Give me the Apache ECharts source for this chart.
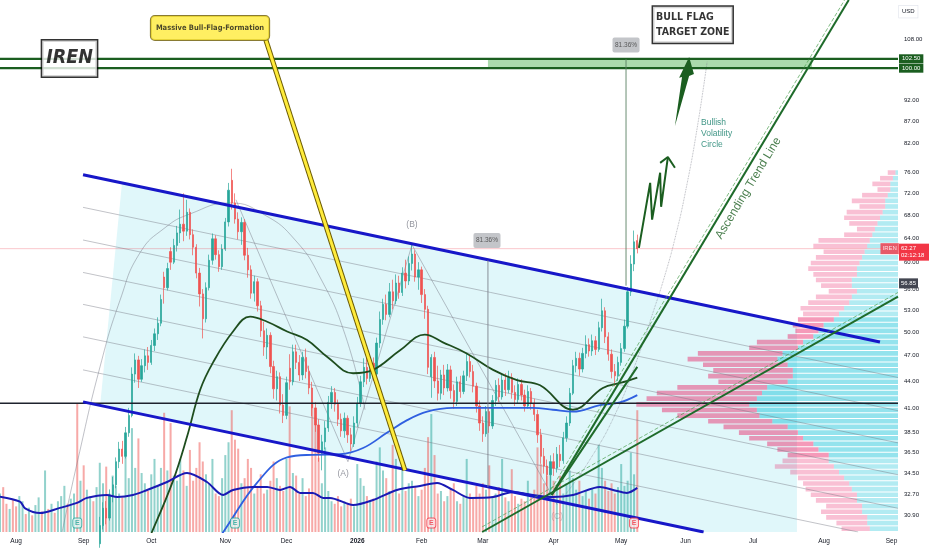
<!DOCTYPE html>
<html>
<head>
<meta charset="utf-8">
<title>IREN</title>
<style>
	html, body { margin: 0; padding: 0; background: #fff; }
	#main { width: 932px; height: 550px; }
</style>
</head>
<body>
<div id="main"></div>
<script src="https://cdn.jsdelivr.net/npm/echarts@6/dist/echarts.min.js"></script>
<script>
	// x = trading-day index, 0 = 2025-08-01
	var firstIdx = -5;
	var monthTicks = [0, 21, 42, 65, 84, 106, 126, 145, 167, 188, 208, 229, 251, 272];
	var monthNames = ['Aug', 'Sep', 'Oct', 'Nov', 'Dec', '2026', 'Feb', 'Mar', 'Apr', 'May', 'Jun', 'Jul', 'Aug', 'Sep'];

	var priceMin = 29.6, priceMax = 119.6;
	var priceTicks = [108, 92, 87, 82, 76, 72, 68, 64, 60, 56, 53, 50, 47, 44, 41, 38.5, 36.5, 34.5, 32.7, 30.9];
	var tagTicks = [116, 102.5, 100, 56.85, 62.27];

	// daily [open, close, low, high] from idx -5
	var candles = [
		[17.0,17.5,16.6,17.9],[17.5,16.8,16.5,17.8],[16.8,16.2,15.8,17.0],[16.2,16.9,16.0,17.2],[16.9,16.0,15.7,17.1],
		[16.0,15.4,15.0,16.2],[15.4,16.3,15.2,16.6],[16.3,17.2,16.0,17.6],[17.2,16.8,16.5,17.7],[16.8,17.6,16.6,18.0],
		[17.6,17.1,16.9,17.9],[17.1,18.2,17.0,18.6],[18.2,19.5,18.0,19.9],[19.5,18.9,18.6,19.8],[18.9,20.1,18.7,20.6],
		[20.1,19.6,19.2,20.4],[19.6,20.8,19.4,21.2],[20.8,20.2,19.9,21.1],[20.2,21.5,20.0,21.9],[21.5,22.4,21.2,22.9],
		[22.4,23.6,22.1,24.0],[23.6,23.0,22.7,24.1],[23.0,24.2,22.8,24.6],[24.2,25.4,23.9,25.8],[25.4,24.6,24.2,26.0],
		[24.6,26.3,24.4,26.8],[26.3,25.7,25.2,26.9],[25.7,26.9,25.5,27.4],[26.9,27.8,26.5,28.3],[27.8,27.2,26.8,28.4],
		[27.2,28.7,27.0,29.2],[28.7,30.1,28.4,30.8],[30.1,31.5,29.8,32.0],[31.5,30.7,30.2,32.1],[30.7,32.6,30.5,33.1],
		[32.6,33.5,32.0,34.2],[33.5,35.6,33.2,36.0],[35.6,36.8,35.0,37.5],[36.8,36.1,35.4,37.6],[36.1,38.4,35.9,39.0],
		[38.4,40.2,38.0,41.0],[40.2,44.8,40.0,45.6],[44.8,46.5,43.8,47.3],[46.5,44.2,43.2,47.0],[44.2,45.8,43.9,46.6],
		[45.8,47.0,45.0,47.8],[47.0,46.2,45.3,48.1],[46.2,48.3,45.9,49.0],[48.3,49.8,47.6,50.5],[49.8,51.2,49.0,52.0],
		[51.2,54.5,50.8,55.2],[57.8,56.2,53.9,58.6],[56.2,59.1,55.8,60.0],[61.8,60.1,58.9,62.5],[60.1,62.8,59.8,63.9],
		[62.8,64.9,61.8,66.1],[64.9,66.4,63.2,69.0],[66.4,65.2,63.5,72.0],[65.2,68.5,64.4,70.8],[68.5,64.6,63.8,69.2],
		[64.6,62.5,61.2,65.5],[62.5,58.4,57.6,63.0],[58.4,55.3,53.5,59.2],[55.3,51.8,49.2,56.0],[51.8,56.2,51.3,57.0],
		[56.2,60.4,55.8,61.3],[60.4,63.9,59.7,64.8],[63.9,61.3,60.5,64.5],[61.3,59.4,58.6,62.0],[59.4,62.2,58.9,63.0],
		[62.2,66.8,61.9,67.5],[66.8,72.6,66.0,74.0],[74.5,70.2,69.0,76.8],[70.2,67.3,66.5,72.0],[67.3,65.1,63.8,68.5],
		[65.1,66.7,62.9,67.6],[66.7,61.2,60.4,67.3],[61.2,58.9,57.7,62.4],[58.9,55.4,54.6,59.6],[55.4,57.1,54.2,58.0],
		[57.1,53.6,52.8,57.6],[53.6,50.2,49.4,54.3],[50.2,48.1,47.0,51.4],[48.1,49.6,46.6,50.5],[49.6,45.7,44.9,50.0],
		[45.7,43.1,42.0,46.4],[43.1,44.5,41.8,45.2],[44.5,41.3,40.4,45.0],[41.3,40.2,39.4,42.5],[40.2,43.8,39.8,44.5],
		[45.5,43.9,43.0,47.2],[43.9,47.5,43.5,48.4],[47.5,46.2,45.4,48.4],[46.2,44.7,44.0,47.1],[44.7,46.8,44.1,47.5],
		[46.8,45.1,44.3,47.9],[45.1,43.2,42.5,45.8],[43.2,41.0,40.1,43.9],[41.0,39.2,38.5,41.6],[39.2,36.4,35.6,39.8],
		[36.4,37.5,34.8,38.2],[37.5,38.9,36.8,39.6],[38.9,41.6,38.5,42.3],[41.6,42.7,40.9,43.4],[42.7,41.4,40.6,43.2],
		[41.4,39.8,39.1,41.9],[39.8,38.6,38.0,40.4],[38.6,39.9,37.9,40.5],[39.9,38.2,37.4,40.2],[38.2,37.3,36.6,38.9],
		[37.3,39.4,37.0,40.1],[39.4,41.5,39.0,42.2],[41.5,43.9,41.1,44.6],[43.9,45.6,43.3,46.7],[45.6,44.3,43.6,47.6],
		[44.3,46.1,43.9,46.9],[46.1,44.8,44.0,46.8],[44.8,48.6,44.5,49.3],[48.6,51.7,48.0,52.8],[51.7,53.8,51.0,54.6],
		[53.8,52.4,51.6,55.2],[52.4,55.6,52.0,56.9],[55.6,54.3,53.1,57.4],[54.3,56.9,53.8,58.2],[56.9,55.5,54.6,58.0],
		[55.5,58.4,55.0,59.3],[58.4,57.2,56.1,60.5],[57.2,59.9,56.6,61.0],[59.9,61.4,58.8,63.2],[61.4,57.8,57.1,62.0],
		[57.8,58.9,55.9,60.1],[58.9,55.2,54.0,59.4],[55.2,53.1,51.8,56.0],[53.1,45.6,44.8,53.6],[44.5,46.8,42.1,47.2],
		[46.8,44.0,43.2,47.5],[44.0,42.6,41.8,45.8],[42.6,44.7,41.9,45.3],[44.7,43.2,42.4,45.9],[43.2,45.3,42.8,46.0],
		[45.3,42.9,42.0,45.8],[42.9,41.7,40.9,43.6],[41.7,43.9,41.2,44.5],[43.9,42.8,42.1,44.6],[42.8,44.6,42.5,45.2],
		[44.6,46.3,44.0,47.3],[46.3,45.1,44.4,47.0],[45.1,43.4,42.7,45.9],[43.4,41.2,40.5,43.8],[41.2,39.4,38.6,41.8],
		[39.4,38.3,37.5,40.1],[38.3,40.6,38.0,41.2],[40.6,39.1,38.4,41.0],[39.1,41.8,38.8,42.4],[41.8,43.5,41.2,44.1],
		[43.5,42.2,41.6,44.3],[42.2,44.1,41.9,44.8],[44.1,43.0,42.3,44.9],[43.0,44.4,42.6,45.2],[44.4,42.7,42.0,44.9],
		[42.7,41.9,41.2,43.5],[41.9,43.6,41.5,44.3],[43.6,42.4,41.8,44.2],[42.4,41.2,40.6,43.0],[41.2,42.8,40.9,43.5],
		[42.8,41.5,40.8,43.2],[41.5,40.3,39.6,42.0],[40.3,38.2,37.4,40.8],[38.2,36.1,35.4,38.8],[36.1,35.2,34.5,36.9],
		[35.2,34.4,33.4,35.8],[34.4,35.6,33.0,36.2],[35.6,35.0,34.3,36.4],[35.0,36.3,34.6,37.0],[36.3,35.7,35.1,37.2],
		[35.7,37.9,35.4,38.5],[37.9,39.4,37.5,40.1],[39.4,42.6,39.1,43.2],[42.6,45.8,42.4,46.5],[45.8,46.7,45.0,47.5],
		[46.7,45.4,44.6,47.4],[45.4,47.3,45.0,48.0],[47.3,48.4,46.7,49.6],[48.4,47.6,46.9,49.2],[47.6,48.9,47.0,49.7],
		[48.9,47.8,47.1,49.5],[47.8,50.6,47.5,51.4],[50.6,52.9,50.1,54.6],[52.9,49.4,48.6,53.4],[49.4,47.2,46.4,50.0],
		[47.2,45.1,44.3,47.8],[45.1,44.6,43.4,46.0],[44.6,46.2,44.0,46.9],[46.2,47.9,45.8,48.6],[47.9,50.8,47.5,51.7],
		[50.8,55.6,50.5,56.3],[55.6,59.8,55.0,61.2],[59.8,63.4,58.7,65.3],[63.6,62.27,61.5,64.6]
	];

	// daily volume from idx -5
	var volumes = [
		30,35,22,18,25,
		20,28,24,14,19,13,21,27,16,48, 18,22,15,24,28,36,22,26,30,100,
		40,52,33,28,24,35,54,38,51,30, 44,36,30,27,63,42,81,50,73,46,
		38,32,45,57,36,50,93,48,85,44, 40,57,48,36,64,40,50,70,55,45,
		38,57,30,28,42,60,70,95,72,65, 38,42,57,50,30,36,45,30,33,40,
		55,42,36,32,57,98,46,44,30,42, 28,34,100,90,58,38,66,32,24,22,
		28,20,24,22,26,20,53,42,36,28, 24,26,55,66,48,42,32,68,57,30,
		55,32,38,40,35,28,33,50,74,92, 60,30,32,24,28,33,38,24,22,28,
		57,30,26,36,30,38,33,52,28,30, 35,57,27,24,49,28,22,26,24,40,
		27,33,66,53,38,44,55,40,35,44, 30,38,48,42,33,40,28,32,26,34,
		30,68,50,40,32,38,30,35,53,36, 40,62,45,95
	];

	// moving averages [idx, value]
	var ma50 = [[40,28.5],[42.2,29.6],[48.8,33.9],[53.1,38.0],[57.2,43.0],[61.2,46.2],[67.4,50.1],[72.7,52.1],[78,51.4],[84.2,50.1],[90.4,49.0],[96.6,46.9],[104.7,44.9],[110.9,45.3],[119.3,47.7],[127,49.7],[132.6,48.7],[140,47.3],[148.2,45.3],[155.6,44.1],[162.8,43.5],[173,40.8],[182.3,43.2],[188,43.8],[193,44.4]];
	var ma200 = [[62,28.8],[64.9,29.8],[74.9,33.7],[84.2,36.0],[92.2,36.25],[100.6,36.3],[107.8,36.9],[115.2,38.4],[121.5,39.7],[127.7,40.6],[135.7,41.0],[146.3,41.0],[160.6,41.0],[166.8,40.8],[173,40.6],[181.4,41.3],[187.6,41.6],[193,42.4]];
	var volMa = [[-5,27.6],[1.2,23.7],[2.8,18.5],[7.4,14.8],[13.6,18.8],[18.9,22.7],[22,26.6],[28.2,28.9],[31.4,27.3],[36.3,28.9],[40.7,32.8],[46.9,39],[53.1,46],[59.3,39],[64.3,28.9],[67.4,32.8],[73.6,35.2],[78,35.2],[82,32.8],[85.1,35.2],[88.2,30.5],[92.2,30.5],[95.4,26.6],[97.5,26.6],[104.7,21.1],[110.9,25],[118.3,32.8],[125.5,35.9],[130.8,38.3],[135.7,32.8],[141,26.6],[148.2,27.3],[154.4,31.3],[160.6,28.9],[166.8,27.3],[173,28.9],[181.4,35.2],[185.5,32.8],[189.8,30.5],[193,34.4]];

	// visible range volume profile, rows from top (76.5) to bottom
	var vpTop = 76.5;
	var vpUp = [1,2,3,3,4,5,5,6,7,8,9,10,11,12,13,14,15,16,16,18,18,16,18,19,21,23,25,29,31,33,37,39,45,47,43,41,41,43,51,53,55,58,55,54,49,43,39,37,33,31,27,27,25,23,21,19,18,16,16,14,14,12,12,11];
	var vpDown = [3,5,7,5,10,13,10,14,14,11,7,11,20,21,16,18,19,19,17,14,12,11,14,16,17,14,14,12,9,10,18,19,33,35,33,31,33,27,35,41,43,44,37,32,25,25,23,21,18,16,16,18,23,19,18,18,18,18,16,14,16,16,12,11];
	var vaLow = 36, vaHigh = 52;

	// earnings dates (idx) and tone
	var earnIdx = [19, 68, 129, 192];
	var earnTone = ['g', 'g', 'r', 'r'];

	// drawings [idx, price]
	var targetHigh = 102.5, targetLow = 100, support = 41.5, lastPrice = 62.27;
	var upperChannel = [[20.8,75.6],[268.4,48.75]];
	var lowerChannel = [[20.8,41.65],[213.6,29.6]];
	var fibChannel = [
		[[20.8,69.4],[274,44.4]], [[20.8,63.7],[274,40.7]], [[20.8,58.5],[274,37.4]],
		[[20.8,53.8],[274,34.4]], [[20.8,49.4],[274,31.5]], [[20.8,45.3],[261.6,29.6]]
	];
	var channelFill = [[32.9,73.97],[242.6,51.04],[242.6,29.6],[213.6,29.6],[26.1,41.27]];
	var targetZone = [[146.6,102.5],[247.3,102.5],[247.3,100],[146.6,100]];
	var trendSteep = [[166.4,32.63],[258.7,119.6]];
	var trendSteepDash = [[165.2,32.63],[257.4,119.6]];
	var trendShort = [[166.4,32.63],[193.0,45.66]];
	var trendLow = [[144.8,29.6],[274,54.9]];
	var trendLowDash = [[144.8,30.0],[274,55.5]];
	var arcLeft = [[14.3,29.6],[19.2,35.8],[26.1,45.7],[32.3,54.4],[38.5,61.6],[46.3,65.8],[54.0,68.2],[66.5,70.2],[77.3,68.0],[86.7,63.7],[94.4,57.8],[102.2,49.7],[108.4,40.8]];
	var volArc = [[170.5,32.6],[178.3,35.8],[186.1,40.3],[192.9,46.5],[197.6,52.3],[201.6,58.1],[205.0,64.6],[208.1,72.7],[211.5,85.0],[214.7,101.7]];
	var abcPath = [[68.3,70.8],[103.1,35.6],[123.0,62.9],[168.1,31.8]];
	var flagPointer = [[77.6,107.7],[120.8,34.8]];
	var measureA = [[189.5,102.4],[189.5,56.5]];
	var measureB = [[146.6,60.4],[146.6,33.3]];
	var bigArrow = [[204.7,85.9],[206.9,97.7],[206.0,97.5],[209.1,103.0],[210.6,98.5],[209.1,98.0]];
	var zigzag = [[193.5,62.4],[197.0,74.0],[197.6,67.2],[200.1,76.0],[200.4,69.5],[202.5,79.2]];
	var zigzagHead = [[200.1,78.0],[202.5,79.2],[204.7,77.0]];

	var FONT = "'Liberation Sans', Arial, sans-serif";
	var NARROW = "'Liberation Sans Narrow', 'DejaVu Sans Condensed', 'Liberation Sans', sans-serif";
	var L = Math.log;

	function seg(points, color, width, z, type, smooth) {
		return {
			type: 'line', silent: true, z: z, symbol: 'none', smooth: smooth || false,
			data: points.map(function (p) { return [p[0], L(p[1])]; }),
			lineStyle: { color: color, width: width, type: type || 'solid' }
		};
	}

	function poly(points, fill, z) {
		return {
			type: 'custom', silent: true, z: z,
			data: [[points[0][0], L(points[0][1])]],
			renderItem: function (params, api) {
				return {
					type: 'polygon',
					shape: { points: points.map(function (p) { return api.coord([p[0], L(p[1])]); }) },
					style: { fill: fill }
				};
			}
		};
	}

	function note(point, text, label) {
		var base = { show: true, position: 'inside', formatter: text, fontFamily: FONT };
		for (var k in label) base[k] = label[k];
		return {
			type: 'scatter', silent: true, z: 9, symbolSize: 1,
			itemStyle: { color: 'rgba(0,0,0,0)' },
			data: [[point[0], L(point[1])]],
			label: base
		};
	}

	var candleData = candles.map(function (c, i) {
		return [firstIdx + i, L(c[0]), L(c[1]), L(c[2]), L(c[3])];
	});
	var volData = volumes.map(function (v, i) {
		var c = candles[i];
		return { value: [firstIdx + i, v], itemStyle: { color: c[1] >= c[0] ? 'rgba(38,166,154,0.5)' : 'rgba(239,83,80,0.5)' } };
	});
	var vpData = vpUp.map(function (u, i) {
		var span = L(vpTop) - L(priceMin);
		return [u, vpDown[i], L(vpTop) - span * i / vpUp.length, L(vpTop) - span * (i + 1) / vpUp.length];
	});
	var flat = function (p) { return [[firstIdx, p], [274, p]]; };

	var series = [
		poly(channelFill, 'rgba(0,188,212,0.12)', 1),
		poly(targetZone, 'rgba(102,187,106,0.55)', 1),
		{
			type: 'bar', yAxisIndex: 1, z: 2, silent: true, barWidth: 2, data: volData
		},
		{
			type: 'custom', xAxisIndex: 1, yAxisIndex: 0, z: 3, silent: true,
			encode: { x: [0, 1], y: [2, 3] },
			data: vpData,
			renderItem: function (params, api) {
				var up = api.value(0), dn = api.value(1);
				var top = api.coord([0, api.value(2)]), bot = api.coord([0, api.value(3)]);
				var xUp = api.coord([up, api.value(2)])[0];
				var xAll = api.coord([up + dn, api.value(2)])[0];
				var h = Math.max(bot[1] - top[1] - 1, 0.5);
				var mid = Math.exp((api.value(2) + api.value(3)) / 2);
				var inVa = mid >= vaLow && mid <= vaHigh;
				return {
					type: 'group', children: [
						{ type: 'rect', shape: { x: xUp, y: top[1], width: top[0] - xUp, height: h }, style: { fill: inVa ? 'rgba(0,188,212,0.42)' : 'rgba(0,188,212,0.3)' } },
						{ type: 'rect', shape: { x: xAll, y: top[1], width: xUp - xAll, height: h }, style: { fill: inVa ? 'rgba(233,30,99,0.45)' : 'rgba(233,30,99,0.28)' } }
					]
				};
			}
		}
	];

	fibChannel.forEach(function (f) { series.push(seg(f, 'rgba(120,123,134,0.45)', 1, 3)); });
	series.push(seg(arcLeft, 'rgba(120,123,134,0.6)', 0.8, 3, 'solid', 0.5));
	series.push(seg(volArc, 'rgba(120,123,134,0.7)', 0.8, 3, 'dotted', 0.5));
	series.push(seg(abcPath, 'rgba(120,123,134,0.6)', 0.8, 3));

	series.push({
		type: 'candlestick', z: 4, silent: true, barWidth: 1.8,
		encode: { x: 0, y: [1, 2, 3, 4] },
		data: candleData,
		itemStyle: { color: '#26a69a', color0: '#ef5350', borderColor: '#26a69a', borderColor0: '#ef5350', borderWidth: 0.7 }
	});

	series.push(seg(ma50, '#1e4d1e', 1.8, 5, 'solid', 0.4));
	series.push(seg(ma200, '#2f5fe0', 1.8, 5, 'solid', 0.4));
	series.push({
		type: 'line', yAxisIndex: 1, z: 5, silent: true, symbol: 'none', smooth: 0.3,
		data: volMa, lineStyle: { color: '#1a1ab4', width: 2 }
	});

	series.push(seg(flat(lastPrice), 'rgba(242,54,69,0.35)', 0.8, 5));
	series.push(seg(flat(support), '#1e222d', 1.4, 5));
	series.push(seg(flat(targetHigh), '#1b5e20', 2.2, 5));
	series.push(seg(flat(targetLow), '#1b5e20', 2.2, 5));

	series.push(seg(upperChannel, '#1717c8', 3, 6));
	series.push(seg(lowerChannel, '#1717c8', 3, 6));
	series.push(seg(trendSteepDash, 'rgba(76,160,80,0.7)', 1, 6, 'dashed'));
	series.push(seg(trendLowDash, 'rgba(76,160,80,0.7)', 1, 6, 'dashed'));
	series.push(seg(trendSteep, '#1e6b2a', 2, 6));
	series.push(seg(trendShort, '#1e6b2a', 2, 6));
	series.push(seg(trendLow, '#1e6b2a', 2, 6));
	series.push(seg(measureA, 'rgba(90,130,100,0.9)', 1, 6));
	series.push(seg(measureB, 'rgba(120,123,134,0.85)', 1, 6));

	series.push(seg(flagPointer, '#6b5a00', 5, 7));
	series.push(seg(flagPointer, '#ffeb3b', 3, 7));
	series.push(poly(bigArrow, '#1b5e20', 8));
	series.push(seg(zigzag, '#1b5e20', 2, 8));
	series.push(seg(zigzagHead, '#1b5e20', 2, 8));

	// text drawings
	series.push(note([16.6, 102.6], 'IREN', {
		fontFamily: NARROW, fontSize: 19.5, fontWeight: 'bold', fontStyle: 'italic', color: '#000',
		backgroundColor: '#fff', borderColor: '#000', borderWidth: 1.5, padding: [5, 4], lineHeight: 26
	}));
	series.push(note([60.25, 111.1], 'Massive Bull-Flag-Formation', {
		fontFamily: NARROW, fontSize: 7.5, fontWeight: 'bold', color: '#1a1a1a',
		backgroundColor: '#ffeb3b', borderColor: '#6b5a00', borderWidth: 1, borderRadius: 4, padding: [8, 5]
	}));
	series.push(note([197.9, 112.1], 'BULL FLAG\nTARGET ZONE', {
		fontFamily: NARROW, fontSize: 10.5, fontWeight: 'bold', color: '#000', align: 'left',
		backgroundColor: '#fff', borderColor: '#000', borderWidth: 1.5, padding: [3, 3], lineHeight: 15
	}));
	series.push(note([212.8, 88.0], 'Bullish\nVolatility\nCircle', {
		fontSize: 8.5, color: '#0f7a67', align: 'left', verticalAlign: 'top', lineHeight: 11
	}));
	series.push(note([227.5, 73.0], 'Ascending Trend Line', {
		fontSize: 12, fontWeight: 500, color: '#1b5e20', rotate: 59
	}));
	series.push(note([189.5, 106.3], '81.36%', {
		fontSize: 6.5, color: '#3c3c3c', backgroundColor: '#b4b6bc', borderRadius: 2, padding: [4, 2.5]
	}));
	series.push(note([146.3, 63.6], '81.36%', {
		fontSize: 6.5, color: '#3c3c3c', backgroundColor: '#b4b6bc', borderRadius: 2, padding: [4, 2.5]
	}));
	series.push(note([123.0, 66.3], '(B)', { fontSize: 8.5, color: '#787b86' }));
	series.push(note([101.6, 34.5], '(A)', { fontSize: 8.5, color: '#787b86' }));
	series.push(note([168.1, 30.8], '(C)', { fontSize: 8.5, color: 'rgba(120,123,134,0.6)' }));
	series.push(note([271.4, lastPrice], 'IREN', {
		fontSize: 6, color: '#fff', backgroundColor: '#f23645', padding: [2.5, 2]
	}));

	// earnings flags
	series.push({
		type: 'scatter', z: 9, silent: true, symbol: 'roundRect', symbolSize: [9, 10],
		data: earnIdx.map(function (d, i) {
			var g = earnTone[i] === 'g';
			return {
				value: [d, L(30.3)],
				itemStyle: { color: g ? '#e0f2f1' : '#fde3e6', borderColor: g ? '#26a69a' : '#f23645', borderWidth: 1 },
				label: { color: g ? '#26a69a' : '#f23645' }
			};
		}),
		label: { show: true, position: 'inside', formatter: 'E', fontSize: 7, fontWeight: 'bold', fontFamily: FONT }
	});

	var myChart = echarts.init(document.getElementById('main'));

	var option = {
		animation: false,
		backgroundColor: '#fff',
		grid: { left: 0, right: 34, top: 0, bottom: 18, containLabel: false, outerBoundsMode: 'none' },
		xAxis: [{
			type: 'value', min: -5, max: 274,
			axisLine: { show: false }, axisTick: { show: false }, splitLine: { show: false },
			axisLabel: {
				customValues: monthTicks, margin: 6, fontSize: 6.5, color: '#131722', fontFamily: FONT, hideOverlap: false,
				formatter: function (v) {
					var i = monthTicks.indexOf(Math.round(v));
					if (i < 0) return '';
					return monthNames[i] === '2026' ? '{b|2026}' : monthNames[i];
				},
				rich: { b: { fontSize: 6.5, fontWeight: 'bold', color: '#131722', fontFamily: FONT } }
			}
		}, {
			type: 'value', min: 0, max: 350, inverse: true, show: false
		}],
		yAxis: [{
			type: 'value', position: 'right', min: L(priceMin), max: L(priceMax),
			axisLine: { show: false }, axisTick: { show: false }, splitLine: { show: false },
			axisLabel: {
				customValues: priceTicks.concat(tagTicks).map(L),
				margin: 1, hideOverlap: false, fontSize: 6, color: '#131722', fontFamily: FONT,
				formatter: function (v) {
					var p = Math.exp(v);
					var near = function (t) { return Math.abs(p - t) < 0.01; };
					if (near(116)) return '{u|USD}';
					if (near(102.5) || near(100)) return '{g|' + p.toFixed(2) + '}';
					if (near(62.27)) return '{blank| }\n{r|62.27}\n{r|02:12:18}';
					if (near(56.85)) return '{d|56.85}';
					return '{n|' + p.toFixed(2) + '}';
				},
				rich: {
					u: { fontSize: 6, color: '#131722', fontFamily: FONT, backgroundColor: '#fff', borderColor: '#e0e3eb', borderWidth: 0.6, padding: [3, 3], lineHeight: 6 },
					n: { fontSize: 6, color: '#131722', fontFamily: FONT, padding: [0, 0, 0, 5] },
					g: { fontSize: 6, color: '#fff', fontFamily: FONT, backgroundColor: '#1b5e20', lineHeight: 6, padding: [1.5, 3] },
					r: { fontSize: 6, color: '#fff', fontFamily: FONT, backgroundColor: '#f23645', width: 26, lineHeight: 7, padding: [2, 2] },
					blank: { fontSize: 6, lineHeight: 7, padding: [2, 0] },
					d: { fontSize: 6, color: '#fff', fontFamily: FONT, backgroundColor: '#434651', lineHeight: 6, padding: [2, 2] }
				}
			}
		}, {
			type: 'value', min: 0, max: 415, show: false, position: 'left'
		}],
		series: series
	};

	myChart.setOption(option);
</script>
</body>
</html>
